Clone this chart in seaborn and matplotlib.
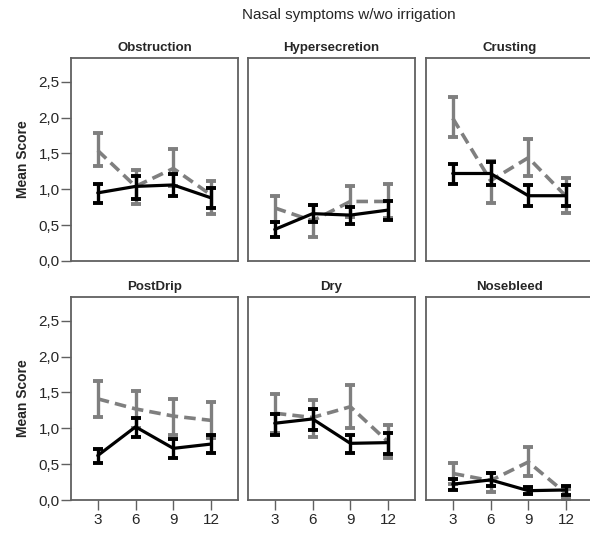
import matplotlib
matplotlib.use("Agg")
import matplotlib.pyplot as plt
import seaborn as sns
import pandas as pd

sns.set_style("white")
plt.rcParams['font.family'] = ['Liberation Sans', 'DejaVu Sans']

months = [3, 6, 9, 12]
symptoms = ["Obstruction", "Hypersecretion", "Crusting", "PostDrip", "Dry", "Nosebleed"]

# solid black series: mean, lower CI, upper CI per symptom
solid_mean = {
    "Obstruction":    [0.95, 1.04, 1.06, 0.88],
    "Hypersecretion": [0.44, 0.66, 0.64, 0.71],
    "Crusting":       [1.22, 1.22, 0.91, 0.91],
    "PostDrip":       [0.62, 1.02, 0.72, 0.78],
    "Dry":            [1.07, 1.13, 0.79, 0.80],
    "Nosebleed":      [0.22, 0.28, 0.13, 0.14],
}
solid_lo = {
    "Obstruction":    [0.81, 0.86, 0.91, 0.74],
    "Hypersecretion": [0.34, 0.55, 0.51, 0.57],
    "Crusting":       [1.07, 1.06, 0.77, 0.76],
    "PostDrip":       [0.51, 0.88, 0.59, 0.65],
    "Dry":            [0.91, 0.97, 0.65, 0.64],
    "Nosebleed":      [0.14, 0.19, 0.09, 0.07],
}
solid_hi = {
    "Obstruction":    [1.08, 1.19, 1.21, 1.02],
    "Hypersecretion": [0.55, 0.78, 0.75, 0.84],
    "Crusting":       [1.35, 1.38, 1.06, 1.06],
    "PostDrip":       [0.71, 1.14, 0.85, 0.90],
    "Dry":            [1.20, 1.27, 0.91, 0.94],
    "Nosebleed":      [0.29, 0.37, 0.18, 0.20],
}
# dashed grey series
dashed_mean = {
    "Obstruction":    [1.54, 1.04, 1.29, 0.92],
    "Hypersecretion": [0.74, 0.56, 0.83, 0.83],
    "Crusting":       [1.99, 1.12, 1.44, 0.90],
    "PostDrip":       [1.41, 1.27, 1.17, 1.11],
    "Dry":            [1.21, 1.15, 1.30, 0.81],
    "Nosebleed":      [0.37, 0.27, 0.53, 0.09],
}
dashed_lo = {
    "Obstruction":    [1.33, 0.80, 1.04, 0.66],
    "Hypersecretion": [0.55, 0.33, 0.62, 0.60],
    "Crusting":       [1.73, 0.81, 1.19, 0.67],
    "PostDrip":       [1.16, 1.01, 0.91, 0.86],
    "Dry":            [0.93, 0.88, 1.01, 0.59],
    "Nosebleed":      [0.22, 0.11, 0.34, 0.02],
}
dashed_hi = {
    "Obstruction":    [1.79, 1.27, 1.56, 1.12],
    "Hypersecretion": [0.90, 0.78, 1.05, 1.07],
    "Crusting":       [2.28, 1.39, 1.70, 1.16],
    "PostDrip":       [1.66, 1.52, 1.41, 1.37],
    "Dry":            [1.48, 1.39, 1.61, 1.04],
    "Nosebleed":      [0.51, 0.37, 0.74, 0.16],
}

yticks = [0.0, 0.5, 1.0, 1.5, 2.0, 2.5]
ytick_labels = ["0,0", "0,5", "1,0", "1,5", "2,0", "2,5"]

W, H = 590, 533
fig = plt.figure(figsize=(W / 100, H / 100), dpi=100)

lefts = [70.7, 247.7, 425.7]
pw = 167.5
rows = [(58, 261), (297, 500)]

GREY = "#7f7f7f"
SPINE = "#606060"

for i, sym in enumerate(symptoms):
    r, c = divmod(i, 3)
    top, bot = rows[r]
    ax = fig.add_axes([lefts[c] / W, 1 - bot / H, pw / W, (bot - top) / H])

    df = pd.DataFrame({
        "month": months * 2,
        "score": dashed_mean[sym] + solid_mean[sym],
        "group": ["dashed"] * 4 + ["solid"] * 4,
    })
    # dashed grey series (drawn first)
    ax.errorbar(months, dashed_mean[sym],
                yerr=[[m - l for m, l in zip(dashed_mean[sym], dashed_lo[sym])],
                      [h - m for m, h in zip(dashed_mean[sym], dashed_hi[sym])]],
                fmt="none", ecolor=GREY, elinewidth=2.4, capsize=3.6, capthick=2.8, zorder=2)
    sns.lineplot(data=df[df.group == "dashed"], x="month", y="score", ax=ax,
                 color=GREY, linewidth=2.6, errorbar=None, zorder=2,
                 linestyle=(0, (3.2, 1.7)))
    # solid black series
    ax.errorbar(months, solid_mean[sym],
                yerr=[[m - l for m, l in zip(solid_mean[sym], solid_lo[sym])],
                      [h - m for m, h in zip(solid_mean[sym], solid_hi[sym])]],
                fmt="none", ecolor="black", elinewidth=2.4, capsize=3.6, capthick=2.8, zorder=3)
    sns.lineplot(data=df[df.group == "solid"], x="month", y="score", ax=ax,
                 color="black", linewidth=2.3, errorbar=None, zorder=3)

    ax.set_xlim(0.85, 14.15)
    ax.set_ylim(0, 2.83)
    ax.set_xlabel("")
    ax.set_ylabel("")
    for s in ax.spines.values():
        s.set_visible(True)
        s.set_color(SPINE)
        s.set_linewidth(1.3)
    ax.set_title(sym, fontsize=9.5, fontweight="bold", pad=5)

    ax.set_yticks(yticks)
    ax.set_xticks(months)
    if c == 0:
        ax.set_yticklabels(ytick_labels, fontsize=11)
        ax.tick_params(axis="y", left=True, length=7, width=1, color=SPINE, pad=1)
        ax.set_ylabel("Mean Score", fontsize=10, fontweight="bold", labelpad=6)
    else:
        ax.set_yticklabels([])
        ax.tick_params(axis="y", left=False, length=0)
    if r == 1:
        ax.set_xticklabels([str(m) for m in months], fontsize=11)
        ax.tick_params(axis="x", bottom=True, length=7, width=1, color=SPINE, pad=2)
    else:
        ax.set_xticklabels([])
        ax.tick_params(axis="x", bottom=False, length=0)
    ax.grid(False)

fig.text(349 / W, 1 - 15 / H, "Nasal symptoms w/wo irrigation", ha="center", va="center", fontsize=11)

fig.savefig("out.png", dpi=100)
